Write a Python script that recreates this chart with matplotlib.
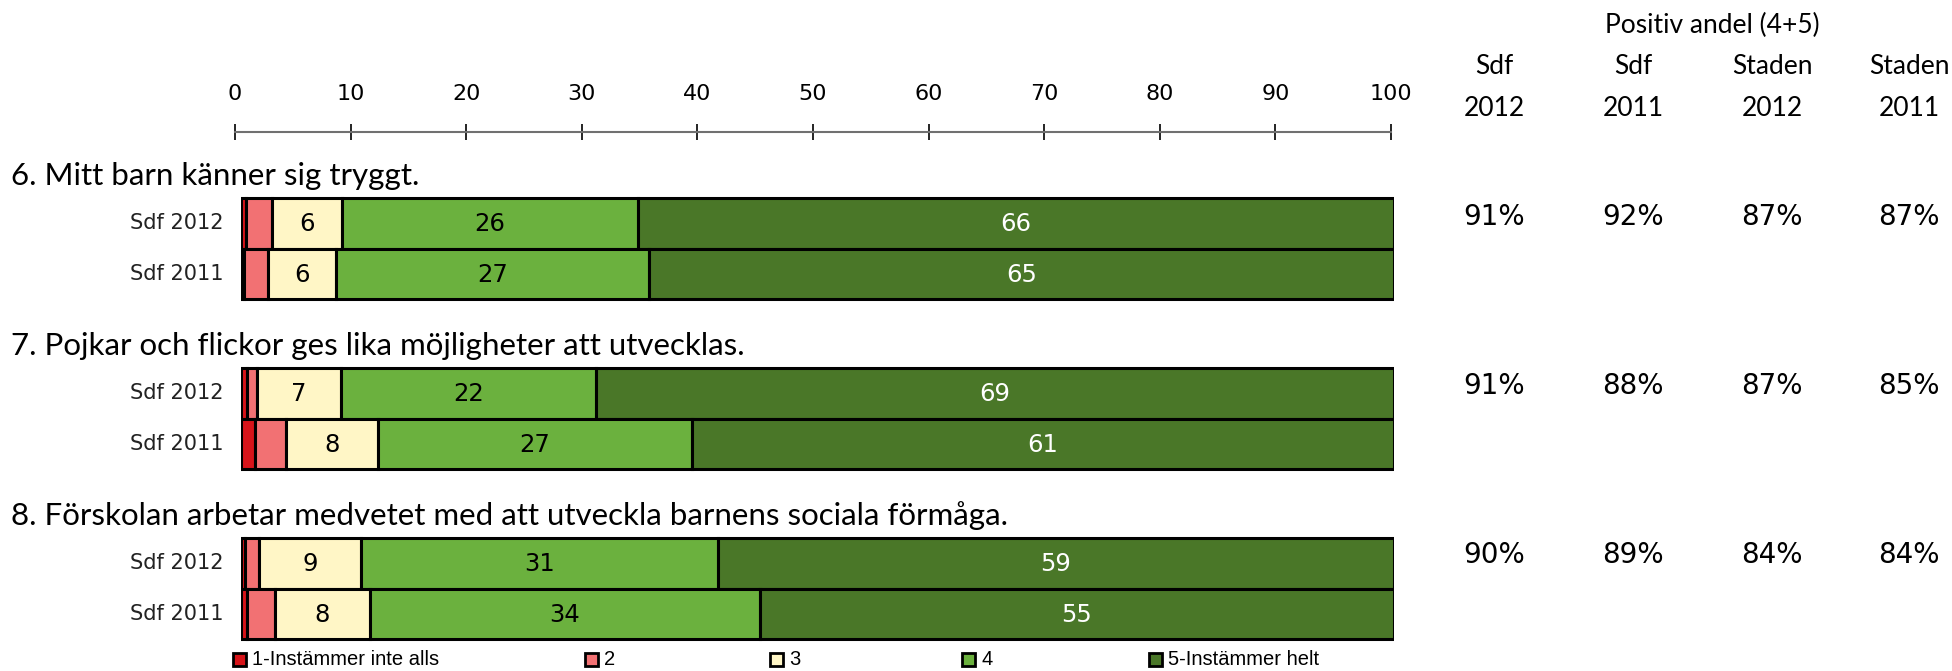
import matplotlib
matplotlib.use("Agg")
import matplotlib.pyplot as plt
from matplotlib.patches import Rectangle
import numpy as np

# ---------------- data ----------------
questions = [
    "6. Mitt barn känner sig tryggt.",
    "7. Pojkar och flickor ges lika möjligheter att utvecklas.",
    "8. Förskolan arbetar medvetet med att utveckla barnens sociala förmåga.",
]
row_labels = ["Sdf 2012", "Sdf 2011"]
categories = ["1-Instämmer inte alls", "2", "3", "4", "5-Instämmer helt"]

# shares per category (1..5) for each question, rows: Sdf 2012, Sdf 2011
q6 = [[0.4, 2.3, 6.1, 25.6, 65.6],
      [0.3, 2.0, 5.9, 27.2, 64.6]]
q7 = [[0.5, 0.85, 7.3, 22.1, 69.25],
      [1.2, 2.7, 8.0, 27.2, 60.9]]
q8 = [[0.35, 1.2, 8.9, 30.9, 58.65],
      [0.55, 2.4, 8.2, 33.85, 55.0]]
shares = [q6, q7, q8]

pos_headers_top = ["Sdf", "Sdf", "Staden", "Staden"]
pos_headers_bot = ["2012", "2011", "2012", "2011"]
positive = [["91%", "92%", "87%", "87%"],
            ["91%", "88%", "87%", "85%"],
            ["90%", "89%", "84%", "84%"]]
xticks = list(range(0, 101, 10))

# ---------------- style ----------------
colors = ["#D7141A", "#F27173", "#FFF6C6", "#6BB13E", "#4A7728"]
text_colors = ["black", "black", "black", "black", "white"]
W, H = 1952, 671
fig = plt.figure(figsize=(W / 100, H / 100), dpi=100)

def fx(px):
    return px / W

def fy(py):
    return 1 - py / H

title_font = ["Lato", "DejaVu Sans"]
num_font = ["DejaVu Sans"]
legend_font = ["Liberation Sans Narrow", "Liberation Sans", "DejaVu Sans"]

# bar axes: y in pixel units (inverted)
bx0, bx1 = 241, 1394
ax = fig.add_axes([fx(bx0), 0, fx(bx1) - fx(bx0), 1])
ax.set_xlim(0, 100)
ax.set_ylim(H, 0)
ax.axis("off")

group_top = [198, 368, 538]
bar_h = 50.5

for g, q in enumerate(shares):
    for r, vals in enumerate(q):
        yc = group_top[g] + bar_h * (r + 0.5)
        left = 0.0
        for c, v in enumerate(vals):
            ax.barh(yc, v, left=left, height=bar_h, color=colors[c],
                    edgecolor="black", linewidth=2.2)
            if c >= 2:
                ax.text(left + v / 2, yc + 1, f"{round(v):d}", ha="center",
                        va="center", fontsize=17.5, color=text_colors[c],
                        family=num_font)
            left += v
        fig.text(fx(224), fy(yc), row_labels[r], ha="right", va="center",
                 fontsize=15, family=num_font, color="#222222")
    # question title
    fig.text(fx(11), fy(group_top[g] - 22), questions[g], ha="left",
             va="center", fontsize=22.5, family=title_font)

# axis on top
ax2 = fig.add_axes([fx(235), fy(132), fx(1391) - fx(235), 0.0001])
ax2.set_xlim(0, 100)
for s in ["left", "right", "bottom"]:
    ax2.spines[s].set_visible(False)
ax2.spines["top"].set_color("#707070")
ax2.spines["top"].set_linewidth(1.5)
ax2.set_yticks([])
ax2.xaxis.tick_top()
ax2.set_xticks(xticks)
ax2.set_xticklabels([str(t) for t in xticks], fontsize=16, family=num_font)
ax2.tick_params(axis="x", direction="inout", length=12, width=1.2,
                color="black", pad=14)

# header for positive shares
col_x = [1494, 1633, 1772, 1909]
fig.text(fx(1712), fy(25), "Positiv andel (4+5)", ha="center", va="center",
         fontsize=19, family=title_font)
for k in range(4):
    fig.text(fx(col_x[k]), fy(66), pos_headers_top[k], ha="center",
             va="center", fontsize=19, family=title_font)
    fig.text(fx(col_x[k]), fy(109), pos_headers_bot[k], ha="center",
             va="center", fontsize=19, family=title_font)
row_val_y = [217, 386, 555]
for g in range(3):
    for k, val in enumerate(positive[g]):
        fig.text(fx(col_x[k]), fy(row_val_y[g]), val, ha="center",
                 va="center", fontsize=20, family=num_font)

# legend
leg_x = [233, 585, 770, 962, 1149]
sq = 13
for c, name in enumerate(categories):
    fig.patches.append(Rectangle((fx(leg_x[c]), fy(666)), fx(sq), sq / H,
                                 transform=fig.transFigure,
                                 facecolor=colors[c], edgecolor="black",
                                 linewidth=2))
    fig.text(fx(leg_x[c] + sq + 6), fy(659.5), name, ha="left", va="center",
             fontsize=14.5, family=legend_font)

fig.savefig("out.png", dpi=100)
